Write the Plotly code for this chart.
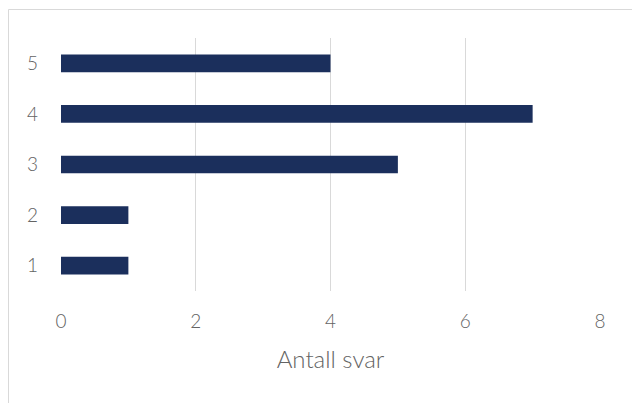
import plotly.graph_objects as go

categories = ["1", "2", "3", "4", "5"]
counts = [1, 1, 5, 7, 4]
x_ticks = [0, 2, 4, 6, 8]

W, H = 632, 403
L, R, T, B = 61, 32, 38, 112
pw, ph = W - L - R, H - T - B

fig = go.Figure(
    go.Bar(
        x=counts,
        y=categories,
        orientation="h",
        marker=dict(color="#1b2f5c", line=dict(width=0)),
        hoverinfo="x+y",
    )
)

fig.update_layout(
    width=W,
    height=H,
    margin=dict(l=L, r=R, t=T, b=B),
    plot_bgcolor="white",
    paper_bgcolor="white",
    bargap=0.65,
    showlegend=False,
    font=dict(family="Lato, 'Open Sans', sans-serif", color="#636363", size=16, weight=300),
    xaxis=dict(
        range=[0, 8],
        tickvals=x_ticks,
        showgrid=True,
        gridcolor="#d9d9d9",
        gridwidth=1,
        zeroline=False,
        showline=False,
        ticks="",
        tickfont=dict(size=19, weight=300),
        ticklabelstandoff=17,
        title=dict(text="Antall svar", font=dict(size=24, weight=300), standoff=20),
    ),
    yaxis=dict(
        type="category",
        categoryorder="array",
        categoryarray=categories,
        showgrid=False,
        zeroline=False,
        showline=False,
        ticks="",
        tickfont=dict(size=19, weight=300),
        ticklabelstandoff=22,
    ),
)

# light frame around the chart area
fig.add_shape(
    type="rect",
    xref="paper",
    yref="paper",
    x0=(8.5 - L) / pw,
    x1=(W + 5 - L) / pw,
    y0=-(H + 5 - T - ph) / ph,
    y1=(T + ph - 9.5) / ph,
    line=dict(color="#d9d9d9", width=1),
    fillcolor="rgba(0,0,0,0)",
    layer="below",
)

fig.write_html("out.html")
